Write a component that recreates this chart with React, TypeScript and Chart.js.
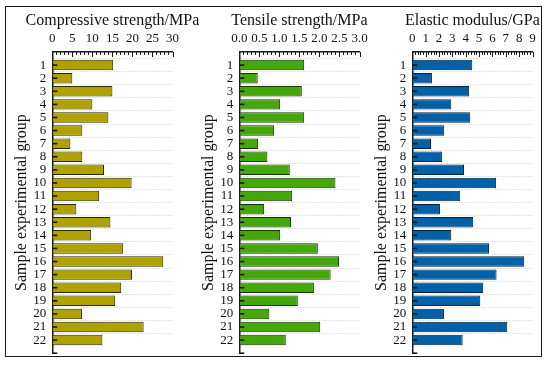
import React, { useEffect, useRef } from 'react';
import { Chart, registerables } from 'chart.js';

Chart.register(...registerables);

const groups = ['1', '2', '3', '4', '5', '6', '7', '8', '9', '10', '11', '12', '13', '14', '15', '16', '17', '18', '19', '20', '21', '22'];

const compressive = [15.2, 5.0, 15.0, 10.0, 14.0, 7.5, 4.5, 7.5, 12.9, 19.8, 11.7, 6.0, 14.5, 9.7, 17.7, 27.7, 19.9, 17.2, 15.7, 7.4, 22.8, 12.5];
const tensile = [1.62, 0.46, 1.56, 1.02, 1.62, 0.87, 0.47, 0.70, 1.26, 2.40, 1.32, 0.62, 1.29, 1.02, 1.96, 2.49, 2.28, 1.87, 1.46, 0.75, 2.02, 1.16];
const elastic = [4.49, 1.47, 4.26, 2.92, 4.34, 2.39, 1.40, 2.24, 3.87, 6.28, 3.59, 2.07, 4.56, 2.92, 5.74, 8.38, 6.31, 5.31, 5.09, 2.37, 7.11, 3.77];

const yTitle = 'Sample experimental group';
const FONT = "'Liberation Serif', 'Times New Roman', serif";

const innerTicks = {
  id: 'innerTicks',
  afterDatasetsDraw(chart: any, _args: any, opts: any) {
    const { ctx, chartArea } = chart;
    const x = chart.scales.x;
    const y = chart.scales.y;
    ctx.save();
    ctx.strokeStyle = '#1a1a1a';
    ctx.lineWidth = 1;
    const n = Math.round((x.max - x.min) / opts.minor);
    for (let i = 0; i <= n; i++) {
      const v = x.min + i * opts.minor;
      const r = v / opts.major;
      const major = Math.abs(r - Math.round(r)) < 1e-6;
      const px = Math.round(x.getPixelForValue(v)) + 0.5;
      ctx.beginPath();
      ctx.moveTo(px, chartArea.top);
      ctx.lineTo(px, chartArea.top + (major ? 5 : 3));
      ctx.stroke();
    }
    ctx.lineWidth = 1.6;
    const labels = y.getLabels();
    for (let i = 1; i < labels.length; i++) {
      const py = y.getPixelForValue(i);
      ctx.beginPath();
      ctx.moveTo(chartArea.left, py);
      ctx.lineTo(chartArea.left + 5, py);
      ctx.stroke();
    }
    // panel title, centred over the plot area
    ctx.fillStyle = '#111';
    ctx.font = `16px ${FONT}`;
    ctx.textAlign = 'center';
    ctx.textBaseline = 'middle';
    ctx.fillText(opts.title, (chartArea.left + chartArea.right) / 2, 21);
    ctx.restore();
  },
};

type PanelProps = {
  title: string;
  values: number[];
  color: string;
  border: string;
  max: number;
  step: number;
  minor: number;
  decimals: number;
  left: number;
};

function Panel({ title, values, color, border, max, step, minor, decimals, left }: PanelProps) {
  const ref = useRef<HTMLCanvasElement>(null);
  useEffect(() => {
    if (!ref.current) return;
    const labels = ['', ...groups, ''];
    const data = [null, ...values, null];
    const chart = new Chart(ref.current, {
      type: 'bar',
      data: {
        labels,
        datasets: [
          {
            data: data as any,
            backgroundColor: color,
            borderColor: border,
            borderWidth: 1,
            borderSkipped: false,
            barPercentage: 0.8,
            categoryPercentage: 1,
          },
        ],
      },
      plugins: [innerTicks],
      options: {
        indexAxis: 'y',
        responsive: false,
        animation: false,
        layout: { padding: { left: 0, right: 27.5, top: 0, bottom: 12 } },
        plugins: {
          legend: { display: false },
          tooltip: { enabled: false },
          innerTicks: { minor, major: step, title },
        } as any,
        scales: {
          x: {
            type: 'linear',
            position: 'top',
            min: 0,
            max,
            ticks: {
              stepSize: step,
              autoSkip: false,
              maxRotation: 0,
              padding: 6,
              color: '#111',
              font: { family: FONT, size: 13 },
              callback: (v: any) => Number(v).toFixed(decimals),
            },
            grid: { display: false, drawTicks: false },
            border: { display: true, color: '#1a1a1a', width: 1.5 },
            afterFit: (s: any) => {
              s.height = 52;
            },
          },
          y: {
            type: 'category',
            offset: false,
            ticks: {
              autoSkip: false,
              padding: 6,
              color: '#111',
              font: { family: FONT, size: 13 },
            },
            grid: {
              drawTicks: false,
              lineWidth: 1,
              color: (c: any) => (c.index === 0 || c.index === labels.length - 1 ? 'rgba(0,0,0,0)' : '#c8c8c8'),
            },
            border: { display: true, color: '#1a1a1a', width: 1.5, dash: [1, 2] },
            title: {
              display: true,
              text: yTitle,
              color: '#111',
              font: { family: FONT, size: 16 },
              padding: { top: 12, bottom: 0 },
            },
            afterFit: (s: any) => {
              s.width = 52.3;
            },
          },
        },
      } as any,
    });
    return () => chart.destroy();
  }, []);
  return (
    <canvas
      ref={ref}
      width={200}
      height={367}
      style={{ position: 'absolute', left, top: 0, width: 200, height: 367 }}
    />
  );
}

export default function App() {
  return (
    <div style={{ position: 'absolute', left: 0, top: 0, width: 550, height: 367, background: '#fff', overflow: 'hidden' }}>
      <Panel title="Compressive strength/MPa" values={compressive} color="#AFA200" border="#2a2800" max={30} step={5} minor={1} decimals={0} left={0} />
      <Panel title="Tensile strength/MPa" values={tensile} color="#44A80A" border="#143300" max={3} step={0.5} minor={0.1} decimals={1} left={187} />
      <Panel title="Elastic modulus/GPa" values={elastic} color="#0060A8" border="#00203a" max={9} step={1} minor={0.2} decimals={0} left={360} />
      <div
        style={{
          position: 'absolute',
          left: 5,
          top: 6,
          width: 537,
          height: 351,
          border: '1.5px solid #1a1a1a',
          boxSizing: 'border-box',
          pointerEvents: 'none',
        }}
      />
    </div>
  );
}
